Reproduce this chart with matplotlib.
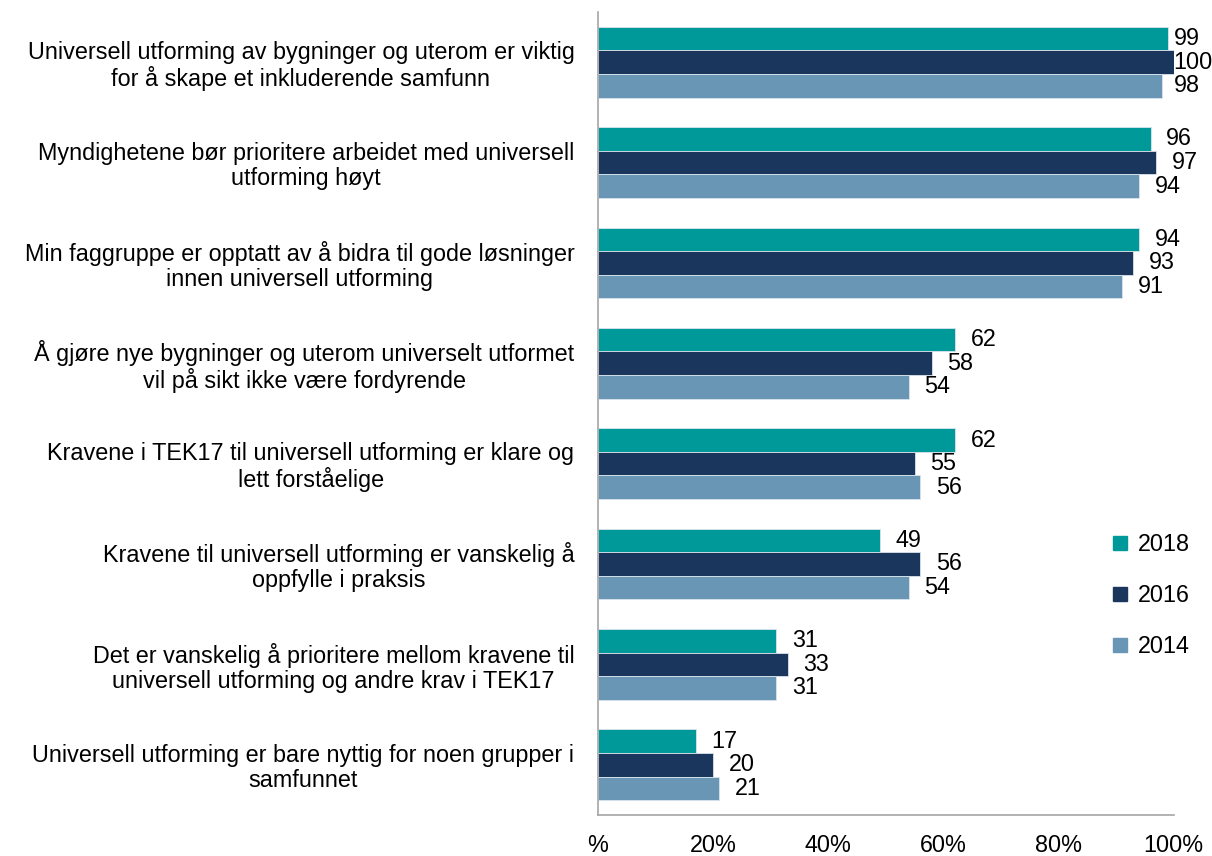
import matplotlib.pyplot as plt
import matplotlib.patches as mpatches
import numpy as np

categories = [
    "Universell utforming av bygninger og uterom er viktig\nfor å skape et inkluderende samfunn",
    "Myndighetene bør prioritere arbeidet med universell\nutforming høyt",
    "Min faggruppe er opptatt av å bidra til gode løsninger\ninnen universell utforming",
    "Å gjøre nye bygninger og uterom universelt utformet\nvil på sikt ikke være fordyrende",
    "Kravene i TEK17 til universell utforming er klare og\nlett forståelige",
    "Kravene til universell utforming er vanskelig å\noppfylle i praksis",
    "Det er vanskelig å prioritere mellom kravene til\nuniversell utforming og andre krav i TEK17",
    "Universell utforming er bare nyttig for noen grupper i\nsamfunnet",
]
years = ["2018", "2016", "2014"]
v2018 = [99, 96, 94, 62, 62, 49, 31, 17]
v2016 = [100, 97, 93, 58, 55, 56, 33, 20]
v2014 = [98, 94, 91, 54, 56, 54, 31, 21]
colors = ["#009999", "#1B365D", "#6896B4"]
xticklabels = ["%", "20%", "40%", "60%", "80%", "100%"]

plt.rcParams['font.family'] = ['Liberation Sans', 'DejaVu Sans']
fs = 16.8

fig = plt.figure(figsize=(12.12, 8.56), dpi=100)
ax = fig.add_axes([0.4934, 0.048, 0.475, 0.938])

n = len(categories)
y = np.arange(n)
h = 0.235
for i, (vals, col) in enumerate(zip([v2018, v2016, v2014], colors)):
    pos = y + (i - 1) * h
    ax.barh(pos, vals, height=h, color=col, edgecolor="#D9E4EC", linewidth=0.6)
    for p, v in zip(pos, vals):
        # keep labels inside the figure, like the original chart does
        ax.text(min(v + 2.7, 100.0), p, str(v), va="center", ha="left",
                fontsize=fs, clip_on=False)

ax.set_ylim(n - 0.5, -0.5)
ax.set_xlim(0, 100)
ax.set_yticks(y)
ax.set_yticklabels(categories, fontsize=fs, ha="right", multialignment="center",
                   linespacing=1.1)
ax.set_xticks([0, 20, 40, 60, 80, 100])
ax.set_xticklabels(xticklabels, fontsize=fs)
ax.tick_params(axis="both", length=0)
ax.tick_params(axis="y", pad=17)
ax.tick_params(axis="x", pad=14)
for s in ["top", "right"]:
    ax.spines[s].set_visible(False)
for s in ["left", "bottom"]:
    ax.spines[s].set_color("#A6A6A6")
    ax.spines[s].set_linewidth(1.2)

handles = [mpatches.Patch(color=c, label=yr) for c, yr in zip(colors, years)]
fig.legend(handles=handles, loc="upper left", bbox_to_anchor=(0.911, 0.388),
           frameon=False, fontsize=fs, handlelength=0.6, handleheight=0.6,
           handletextpad=0.45, labelspacing=1.2, borderaxespad=0)

fig.savefig("out.png", dpi=100)
